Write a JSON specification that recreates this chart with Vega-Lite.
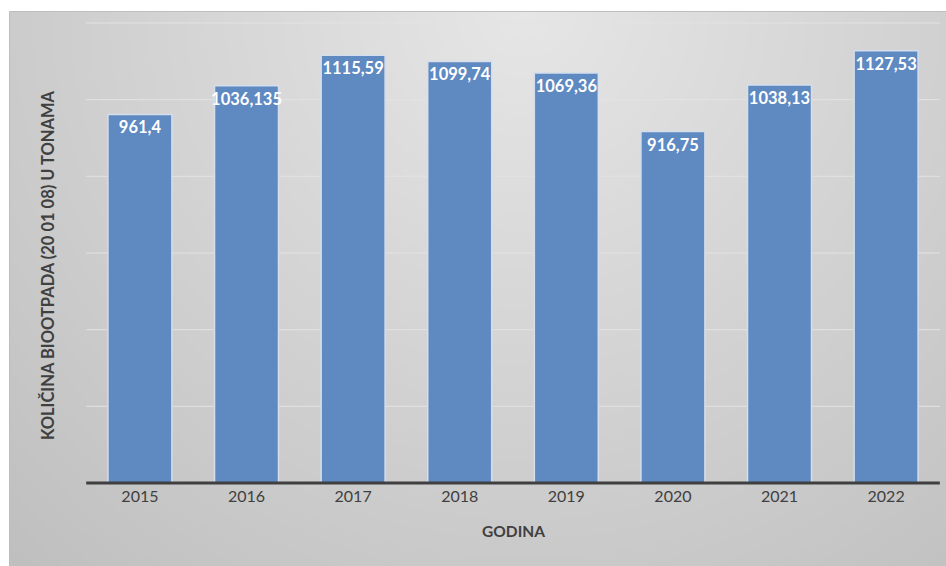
{
  "$schema": "https://vega.github.io/schema/vega-lite/v6.json",
  "width": 937,
  "height": 555,
  "autosize": {"type": "none"},
  "padding": {"top": 11, "left": 9, "right": 0, "bottom": 0},
  "background": "#ffffff",
  "config": {
    "font": "Lato",
    "locale": {"number": {"decimal": ",", "thousands": ".", "grouping": [3], "currency": ["", ""]}},
    "view": {
      "fill": {
        "gradient": "radial",
        "x1": 0.55, "y1": 0.2, "r1": 0,
        "x2": 0.55, "y2": 0.2, "r2": 0.8,
        "stops": [{"offset": 0, "color": "#e6e6e6"}, {"offset": 1, "color": "#bfbfbf"}]
      },
      "stroke": "#bdbdbd",
      "strokeWidth": 1
    }
  },
  "layer": [
    {
      "data": {"values": [{"g": 200}, {"g": 400}, {"g": 600}, {"g": 800}, {"g": 1000}, {"g": 1200}]},
      "mark": {"type": "rule", "color": "#e3e3e3", "strokeWidth": 1},
      "encoding": {
        "y": {"field": "g", "type": "quantitative", "scale": {"domain": [-216.5, 1231.3], "nice": false, "zero": false},
              "axis": {"title": "KOLIČINA BIOOTPADA (20 01 08) U TONAMA", "domain": false, "ticks": false, "labels": false, "grid": false,
                       "titleFont": "Lato", "titleFontSize": 16.5, "titleFontWeight": "bold", "titleColor": "#404040",
                       "titleX": 39, "titleY": 254, "titleAngle": -90, "titleBaseline": "middle", "titleAlign": "center"}},
        "x": {"datum": "2015", "type": "nominal", "bandPosition": -0.34},
        "x2": {"datum": "2022", "bandPosition": 1.34}
      }
    },
    {
      "data": {"values": [
        {"year": "2015", "value": 961.4},
        {"year": "2016", "value": 1036.135},
        {"year": "2017", "value": 1115.59},
        {"year": "2018", "value": 1099.74},
        {"year": "2019", "value": 1069.36},
        {"year": "2020", "value": 916.75},
        {"year": "2021", "value": 1038.13},
        {"year": "2022", "value": 1127.53}
      ]},
      "encoding": {
        "x": {"field": "year", "type": "nominal",
              "scale": {"domain": ["2015", "2016", "2017", "2018", "2019", "2020", "2021", "2022"], "paddingInner": 0.4, "paddingOuter": 0.595, "align": 0.78},
              "axis": {"title": "GODINA", "orient": "bottom", "offset": -83, "domain": false, "ticks": false, "labelAngle": 0, "bandPosition": 0.5,
                       "labelFont": "Lato", "labelFontSize": 16, "labelColor": "#404040", "labelPadding": 13, "labelAlign": "center",
                       "titleFont": "Lato", "titleFontSize": 15.5, "titleFontWeight": "bold", "titleColor": "#404040",
                       "titleX": 504, "titleY": 48, "titleBaseline": "middle", "titleAlign": "center"}},
        "y": {"field": "value", "type": "quantitative"}
      },
      "layer": [
        {
          "mark": {"type": "bar", "fill": "#5e89c1", "stroke": "#d4deec", "strokeWidth": 1.5},
          "encoding": {"y2": {"datum": 0}}
        },
        {
          "mark": {"type": "text", "color": "#ffffff", "font": "Lato", "fontSize": 16.5, "fontWeight": "bold", "baseline": "middle", "dy": 14},
          "encoding": {"text": {"field": "value", "type": "quantitative", "format": "~f"}}
        }
      ]
    },
    {
      "data": {"values": [{"b": 0}]},
      "mark": {"type": "rule", "color": "#3f3f3f", "strokeWidth": 3},
      "encoding": {
        "y": {"field": "b", "type": "quantitative"},
        "x": {"datum": "2015", "type": "nominal", "bandPosition": -0.34},
        "x2": {"datum": "2022", "bandPosition": 1.34}
      }
    }
  ]
}
